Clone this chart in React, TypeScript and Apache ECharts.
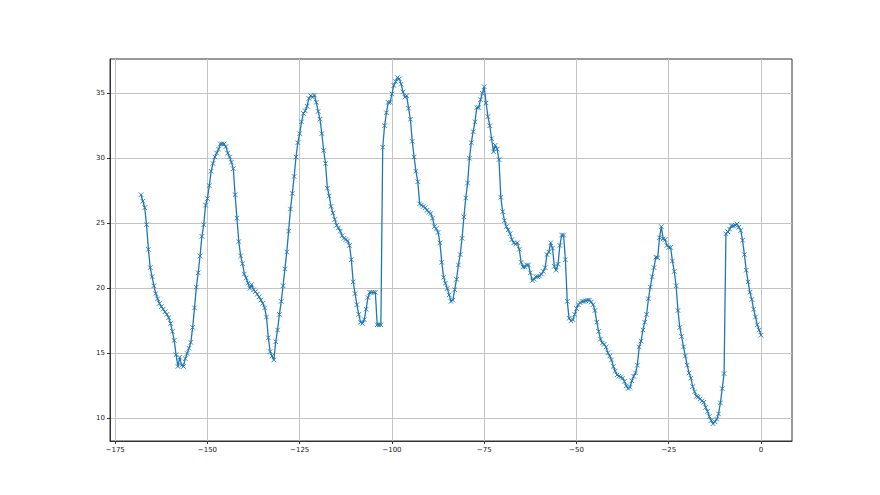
import React, { useEffect, useRef } from "react";
import * as echarts from "echarts";

// x positions: start and step of the sampled series (x = X_START + i * X_STEP)
const X_START = -168;
const X_STEP = 0.5;

// y values, one per sample, rows of 10 (5 x-units each)
const Y_VALUES: number[] = [
  // -168.0 .. -163.5
  27.2, 26.7, 26.2, 24.9, 23.0, 21.6, 20.9, 20.2, 19.6, 19.2,
  // -163.0 .. -158.5
  18.85, 18.6, 18.4, 18.2, 18.0, 17.75, 17.3, 16.7, 16.0, 14.9,
  // -158.0 .. -153.5
  14.0, 14.7, 14.1, 14.0, 14.6, 15.0, 15.4, 15.85, 17.0, 18.5,
  // -153.0 .. -148.5
  20.1, 21.2, 22.5, 24.0, 24.9, 26.4, 26.9, 27.9, 29.0, 29.6,
  // -148.0 .. -143.5
  30.1, 30.4, 30.7, 31.1, 31.1, 31.1, 30.9, 30.4, 30.1, 29.7,
  // -143.0 .. -138.5
  29.2, 27.2, 25.4, 23.6, 22.5, 21.9, 21.1, 20.8, 20.4, 20.0,
  // -138.0 .. -133.5
  20.3, 19.9, 19.75, 19.55, 19.35, 19.1, 18.85, 18.5, 17.8, 16.2,
  // -133.0 .. -128.5
  15.15, 14.8, 14.5, 15.9, 16.8, 18.0, 19.0, 20.2, 21.5, 22.8,
  // -128.0 .. -123.5
  24.4, 26.1, 27.3, 28.6, 30.1, 31.2, 31.9, 32.8, 33.45, 33.65,
  // -123.0 .. -118.5
  34.0, 34.6, 34.8, 34.7, 34.85, 34.3, 33.6, 33.0, 31.9, 30.6,
  // -118.0 .. -113.5
  29.6, 27.7, 27.1, 26.3, 25.8, 25.3, 24.85, 24.65, 24.4, 24.05,
  // -113.0 .. -108.5
  23.85, 23.75, 23.65, 23.3, 22.2, 20.5, 19.6, 18.75, 18.0, 17.4,
  // -108.0 .. -103.5
  17.3, 17.6, 18.4, 19.3, 19.7, 19.7, 19.7, 19.7, 17.2, 17.2,
  // -103.0 .. -98.5
  17.2, 30.85, 32.5, 33.5, 34.3, 34.3, 34.95, 35.6, 35.9, 36.2,
  // -98.0 .. -93.5
  36.1, 35.7, 35.1, 34.7, 34.8, 33.85, 33.0, 31.3, 30.1, 29.0,
  // -93.0 .. -88.5
  28.2, 26.5, 26.4, 26.3, 26.2, 26.0, 25.85, 25.75, 25.4, 24.75,
  // -88.0 .. -83.5
  24.6, 24.3, 23.5, 22.0, 20.85, 20.4, 20.0, 19.5, 19.0, 19.1,
  // -83.0 .. -78.5
  19.9, 20.7, 21.8, 22.6, 23.85, 25.5, 26.95, 28.1, 30.0, 31.2,
  // -78.0 .. -73.5
  32.05, 32.8, 33.9, 33.9, 34.5, 35.0, 35.5, 34.25, 33.2, 32.5,
  // -73.0 .. -68.5
  31.5, 30.5, 31.0, 30.7, 29.9, 27.0, 25.9, 25.2, 24.75, 24.5,
  // -68.0 .. -63.5
  24.2, 23.75, 23.5, 23.4, 23.5, 23.0, 22.0, 21.65, 21.65, 21.8,
  // -63.0 .. -58.5
  21.8, 21.2, 20.6, 20.7, 20.9, 20.9, 20.95, 21.1, 21.3, 21.6,
  // -58.0 .. -53.5
  22.6, 22.8, 23.5, 23.1, 21.7, 21.4, 21.85, 23.3, 24.1, 24.1,
  // -53.0 .. -48.5
  22.2, 19.0, 17.7, 17.5, 17.6, 18.0, 18.45, 18.75, 18.9, 19.0,
  // -48.0 .. -43.5
  19.0, 19.05, 19.1, 19.1, 18.95, 18.75, 18.3, 17.4, 16.7, 16.1,
  // -43.0 .. -38.5
  15.8, 15.7, 15.5, 15.05, 14.8, 14.5, 14.0, 13.65, 13.35, 13.25,
  // -38.0 .. -33.5
  13.2, 13.1, 12.85, 12.5, 12.3, 12.4, 12.9, 13.25, 13.5, 14.1,
  // -33.0 .. -28.5
  15.5, 15.95, 16.8, 17.4, 18.0, 19.2, 20.1, 20.9, 21.6, 22.4,
  // -28.0 .. -23.5
  22.35, 23.9, 24.75, 23.8, 23.75, 23.3, 23.15, 23.15, 22.1, 21.3,
  // -23.0 .. -18.5
  20.2, 18.3, 17.0, 16.3, 15.5, 14.8, 14.1, 13.5, 13.1, 12.45,
  // -18.0 .. -13.5
  12.05, 11.7, 11.65, 11.5, 11.35, 11.25, 10.85, 10.55, 10.15, 9.85,
  // -13.0 .. -8.5
  9.6, 9.75, 9.95, 10.35, 11.2, 12.3, 13.45, 24.2, 24.35, 24.55,
  // -8.0 .. -3.5
  24.8, 24.8, 24.85, 24.95, 24.7, 24.45, 23.7, 22.6, 21.4, 20.5,
  // -3.0 .. 0.0
  19.7, 19.15, 18.4, 17.8, 17.2, 16.8, 16.4,
];

const X_TICKS = [-175, -150, -125, -100, -75, -50, -25, 0];
const Y_TICKS = [10, 15, 20, 25, 30, 35];

const X_MIN = -176.4;
const X_MAX = 8.4;
const Y_MIN = 8.27;
const Y_MAX = 37.63;

const LINE_COLOR = "#1f77b4";
const AXIS_COLOR = "#333333";
const GRID_COLOR = "#c4c4c4";
const FONT = "DejaVu Sans";

const fmt = (v: number) => String(v).replace("-", "\u2212");

export default function App() {
  const ref = useRef<HTMLDivElement>(null);

  useEffect(() => {
    if (!ref.current) return;
    const chart = echarts.init(ref.current, undefined, { renderer: "svg" });
    const data = Y_VALUES.map((y, i) => [X_START + i * X_STEP, y]);

    const axisCommon = {
      axisLine: { show: true, onZero: false, lineStyle: { color: AXIS_COLOR, width: 1 } },
      axisTick: { show: true, length: 3, lineStyle: { color: AXIS_COLOR, width: 1 } },
      splitLine: { show: true, lineStyle: { color: GRID_COLOR, width: 1 } },
    };

    chart.setOption({
      animation: false,
      backgroundColor: "#ffffff",
      grid: {
        left: 110,
        right: 88,
        top: 59,
        bottom: 54,
        show: true,
        borderColor: AXIS_COLOR,
        borderWidth: 1,
        backgroundColor: "transparent",
        containLabel: false,
      },
      xAxis: {
        type: "value",
        min: X_MIN,
        max: X_MAX,
        ...axisCommon,
        axisTick: { ...axisCommon.axisTick, customValues: X_TICKS },
        axisLabel: {
          customValues: X_TICKS,
          formatter: fmt,
          color: "#222222",
          fontFamily: FONT,
          fontSize: 7,
          margin: 5,
        },
      },
      yAxis: {
        type: "value",
        min: Y_MIN,
        max: Y_MAX,
        ...axisCommon,
        axisTick: { ...axisCommon.axisTick, customValues: Y_TICKS },
        axisLabel: {
          customValues: Y_TICKS,
          formatter: fmt,
          color: "#222222",
          fontFamily: FONT,
          fontSize: 7,
          margin: 5,
        },
      },
      series: [
        {
          type: "line",
          data,
          symbol: "path://M0,0L10,10M10,0L0,10",
          symbolSize: 4.5,
          showAllSymbol: true,
          lineStyle: { color: LINE_COLOR, width: 1.3 },
          itemStyle: { color: "none", borderColor: LINE_COLOR, borderWidth: 0.9 },
          emphasis: { disabled: true },
          z: 3,
        },
      ],
    });

    return () => chart.dispose();
  }, []);

  return (
    <div
      ref={ref}
      style={{ width: 880, height: 495, position: "absolute", left: 0, top: 0 }}
    />
  );
}
